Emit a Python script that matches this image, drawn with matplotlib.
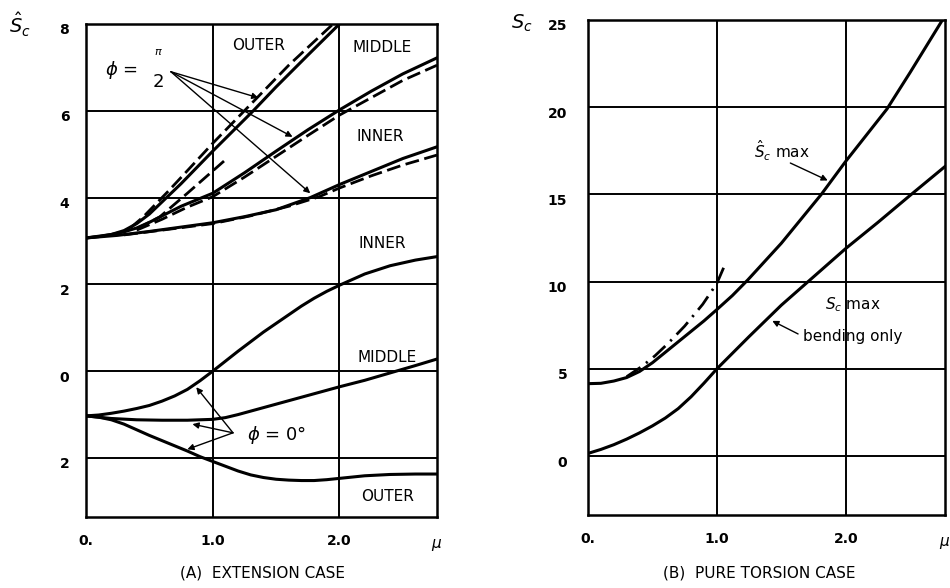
"""
Stress concentration factor against mu for a curved tube:
(A) extension case, (B) pure torsion case.
"""

import numpy as np
import matplotlib.pyplot as plt
from matplotlib.transforms import ScaledTranslation

plt.rcParams['font.family'] = 'DejaVu Sans'
plt.rcParams['mathtext.fontset'] = 'dejavusans'

MU_MAX = 2.77

# (A) extension case, phi = pi/2 (solid and dashed pairs)
pi2_inner_x = [0, 0.25, 0.5, 0.75, 1.0, 1.25, 1.5, 1.77, 2.0, 2.25, 2.5, 2.77]
pi2_inner_y = [3.07, 3.13, 3.22, 3.32, 3.42, 3.56, 3.72, 4.0, 4.3, 4.6, 4.9, 5.17]
pi2_inner_dash_x = [0.3, 0.6, 1.0, 1.3, 1.6, 1.84, 2.0, 2.25, 2.5, 2.77]
pi2_inner_dash_y = [3.14, 3.25, 3.4, 3.58, 3.8, 4.02, 4.22, 4.5, 4.75, 4.98]

pi2_middle_x = [0, 0.2, 0.3, 0.4, 0.5, 0.75, 1.0, 1.25, 1.5, 1.75, 2.0, 2.25, 2.5, 2.77]
pi2_middle_y = [3.07, 3.15, 3.21, 3.3, 3.43, 3.8, 4.1, 4.57, 5.07, 5.56, 6.02, 6.45, 6.85, 7.22]
pi2_middle_dash_x = [0.4, 0.6, 0.8, 1.0, 1.25, 1.5, 1.75, 2.0, 2.25, 2.5, 2.77]
pi2_middle_dash_y = [3.25, 3.5, 3.78, 4.02, 4.47, 4.95, 5.43, 5.9, 6.3, 6.7, 7.05]

pi2_outer_x = [0, 0.1, 0.2, 0.3, 0.4, 0.5, 0.6, 0.75, 1.0, 1.32, 1.5, 1.75, 2.0]
pi2_outer_y = [3.07, 3.1, 3.15, 3.24, 3.4, 3.62, 3.9, 4.32, 5.07, 6.0, 6.55, 7.28, 8.0]
pi2_outer_dash_x = [0.35, 0.45, 0.55, 0.65, 0.8, 1.0, 1.3, 1.6, 1.95]
pi2_outer_dash_y = [3.3, 3.55, 3.85, 4.15, 4.62, 5.25, 6.15, 7.05, 8.0]
pi2_extra_dash_x = [0.4, 0.58, 0.8, 1.1]
pi2_extra_dash_y = [3.28, 3.55, 4.1, 4.87]

# (A) extension case, phi = 0
phi0_inner_x = [0, 0.1, 0.2, 0.3, 0.4, 0.5, 0.6, 0.7, 0.8, 0.9, 1.0, 1.1, 1.2, 1.3,
                1.4, 1.5, 1.6, 1.7, 1.8, 1.9, 2.0, 2.2, 2.4, 2.6, 2.77]
phi0_inner_y = [-1.03, -1.01, -0.97, -0.92, -0.86, -0.79, -0.69, -0.57, -0.42, -0.22,
                0.0, 0.23, 0.46, 0.68, 0.9, 1.1, 1.3, 1.5, 1.68, 1.84, 1.98, 2.24,
                2.43, 2.56, 2.64]
phi0_middle_x = [0, 0.2, 0.4, 0.6, 0.8, 1.0, 1.1, 1.2, 1.3, 1.4, 1.5, 1.6, 1.8,
                 2.0, 2.2, 2.4, 2.6, 2.77]
phi0_middle_y = [-1.03, -1.09, -1.12, -1.13, -1.13, -1.11, -1.07, -1.0, -0.92, -0.84,
                 -0.76, -0.68, -0.52, -0.36, -0.21, -0.04, 0.13, 0.28]
phi0_outer_x = [0, 0.1, 0.2, 0.3, 0.4, 0.5, 0.6, 0.7, 0.8, 0.9, 1.0, 1.1, 1.2, 1.3,
                1.4, 1.5, 1.6, 1.7, 1.8, 1.9, 2.0, 2.2, 2.4, 2.6, 2.77]
phi0_outer_y = [-1.03, -1.06, -1.12, -1.22, -1.35, -1.48, -1.6, -1.72, -1.84, -1.97,
                -2.08, -2.19, -2.3, -2.39, -2.45, -2.49, -2.51, -2.52, -2.52, -2.5,
                -2.47, -2.41, -2.38, -2.37, -2.37]

# (B) pure torsion case
sc_hat_x = [0, 0.1, 0.2, 0.3, 0.4, 0.5, 0.6, 0.7, 0.8, 0.9, 1.0, 1.12, 1.24, 1.5,
            1.81, 2.0, 2.32, 2.5, 2.75]
sc_hat_y = [4.15, 4.17, 4.3, 4.5, 4.85, 5.35, 5.95, 6.55, 7.15, 7.75, 8.4, 9.2, 10.1,
            12.2, 15.0, 16.9, 19.9, 22.0, 25.0]
sc_approx_x = [0.3, 0.42, 0.52, 0.62, 0.75, 0.89, 1.0, 1.07]
sc_approx_y = [4.55, 5.15, 5.75, 6.45, 7.45, 8.7, 9.9, 11.1]
sc_bend_x = [0, 0.1, 0.2, 0.3, 0.4, 0.5, 0.6, 0.7, 0.8, 0.9, 1.0, 1.25, 1.5, 1.7,
             2.0, 2.25, 2.5, 2.77]
sc_bend_y = [0.15, 0.38, 0.65, 0.97, 1.33, 1.73, 2.18, 2.72, 3.4, 4.18, 5.0, 6.85,
             8.65, 9.95, 11.9, 13.4, 14.95, 16.6]

x_ticks = [0, 1, 2]
x_labels = ['0.', '1.0', '2.0']
ext_ticks = [-2, 0, 2, 4, 6, 8]
ext_labels = ['2', '0', '2', '4', '6', '8']
tor_ticks = [0, 5, 10, 15, 20, 25]
tor_labels = ['0', '5', '10', '15', '20', '25']

fig = plt.figure(figsize=(9.5, 5.88), dpi=100)
ax1 = fig.add_axes([86 / 950, 1 - 517 / 588, 351 / 950, 493 / 588])
ax2 = fig.add_axes([588 / 950, 1 - 515 / 588, 357 / 950, 495 / 588])

LW = 2.2
dash = (0, (5, 2))
arrow = dict(arrowstyle='-|>', lw=1.0, color='black', mutation_scale=9,
             shrinkA=0, shrinkB=0)


def style_axes(ax, yticks, ylabels, ylim, ypad):
    ax.set_xlim(0, MU_MAX)
    ax.set_ylim(*ylim)
    ax.set_xticks(x_ticks)
    ax.set_xticklabels(x_labels, fontweight='bold')
    ax.set_yticks(yticks)
    ax.set_yticklabels(ylabels, fontweight='bold')
    ax.tick_params(length=0, labelsize=10, pad=12)
    ax.tick_params(axis='y', pad=ypad)
    ax.grid(True, color='black', lw=1.4)
    ax.set_axisbelow(True)
    for s in ax.spines.values():
        s.set_linewidth(1.8)
    # y labels sit a little below their gridlines
    off = ScaledTranslation(0, -0.05, fig.dpi_scale_trans)
    for lab in ax.get_yticklabels():
        lab.set_transform(lab.get_transform() + off)
    ax.text(1.0, -0.04, r'$\mu$', transform=ax.transAxes, ha='center',
            va='top', fontsize=11)


style_axes(ax1, ext_ticks, ext_labels, (-3.36, 8), 12)
style_axes(ax2, tor_ticks, tor_labels, (-3.38, 25), 15)

# --- (A) extension case
for xs, ys in [(pi2_inner_x, pi2_inner_y), (pi2_middle_x, pi2_middle_y),
               (pi2_outer_x, pi2_outer_y), (phi0_inner_x, phi0_inner_y),
               (phi0_middle_x, phi0_middle_y), (phi0_outer_x, phi0_outer_y)]:
    ax1.plot(xs, ys, color='black', lw=LW, solid_joinstyle='round')
for xs, ys in [(pi2_inner_dash_x, pi2_inner_dash_y),
               (pi2_middle_dash_x, pi2_middle_dash_y),
               (pi2_outer_dash_x, pi2_outer_dash_y),
               (pi2_extra_dash_x, pi2_extra_dash_y)]:
    ax1.plot(xs, ys, color='black', lw=2.0, linestyle=dash)

ax1.text(1.36, 7.5, 'OUTER', ha='center', va='center', fontsize=11)
ax1.text(2.34, 7.47, 'MIDDLE', ha='center', va='center', fontsize=11)
ax1.text(2.32, 5.4, 'INNER', ha='center', va='center', fontsize=11)
ax1.text(2.34, 2.94, 'INNER', ha='center', va='center', fontsize=11)
ax1.text(2.38, 0.31, 'MIDDLE', ha='center', va='center', fontsize=11)
ax1.text(2.38, -2.88, 'OUTER', ha='center', va='center', fontsize=11)

ax1.text(0.28, 6.93, r'$\phi$ =', ha='center', va='center', fontsize=13)
ax1.text(0.57, 7.35, r'$\pi$', ha='center', va='center', fontsize=8)
ax1.text(0.57, 6.67, '2', ha='center', va='center', fontsize=13)
for head in [(1.36, 6.3), (1.63, 5.4), (1.77, 4.1)]:
    ax1.annotate('', xy=head, xytext=(0.67, 6.9), arrowprops=arrow)

ax1.text(1.27, -1.47, r'$\phi$ = 0°', ha='left', va='center', fontsize=13)
for head in [(0.87, -0.37), (0.84, -1.22), (0.8, -1.8)]:
    ax1.annotate('', xy=head, xytext=(1.16, -1.42), arrowprops=arrow)

# --- (B) pure torsion case
ax2.plot(sc_hat_x, sc_hat_y, color='black', lw=LW, solid_joinstyle='round')
ax2.plot(sc_bend_x, sc_bend_y, color='black', lw=LW, solid_joinstyle='round')
ax2.plot(sc_approx_x, sc_approx_y, color='black', lw=2.0,
         linestyle=(0, (6, 2.5, 0.8, 2.5)))

ax2.text(1.29, 17.5, r'$\hat{S}_c$ max', ha='left', va='center', fontsize=11)
ax2.annotate('', xy=(1.86, 15.8), xytext=(1.57, 16.8), arrowprops=arrow)
ax2.text(1.84, 8.67, r'$S_c$ max', ha='left', va='center', fontsize=11)
ax2.text(1.67, 6.87, 'bending only', ha='left', va='center', fontsize=11)
ax2.annotate('', xy=(1.43, 7.75), xytext=(1.63, 7.0), arrowprops=arrow)

# axis titles and captions
fig.text(20 / 950, 1 - 25 / 588, r'$\hat{S}_c$', ha='center', va='center', fontsize=14)
fig.text(522 / 950, 1 - 23 / 588, r'$S_c$', ha='center', va='center', fontsize=14)
fig.text(262 / 950, 1 - 573 / 588, '(A)  EXTENSION CASE', ha='center',
         va='center', fontsize=11)
fig.text(759 / 950, 1 - 573 / 588, '(B)  PURE TORSION CASE', ha='center',
         va='center', fontsize=11)

fig.savefig('out.png', dpi=100)
